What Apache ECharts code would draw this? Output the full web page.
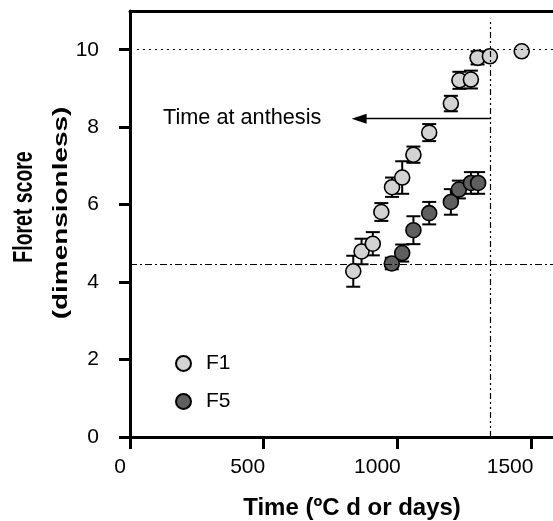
<!DOCTYPE html>
<html>
<head>
<meta charset="utf-8">
<script src="https://cdn.jsdelivr.net/npm/echarts@6/dist/echarts.min.js"></script>
<style>html,body{margin:0;padding:0;background:#fff}#c{width:553px;height:521px}</style>
</head>
<body>
<div id="c"></div>
<script>
// ---- data ----
const f1X   = [835, 866, 908, 940, 980, 1018, 1060, 1119, 1200, 1232, 1275, 1300, 1346, 1465];
const f1Y   = [4.28, 4.79, 4.99, 5.81, 6.45, 6.70, 7.29, 7.86, 8.61, 9.21, 9.23, 9.79, 9.83, 9.96];
const f1Err = [0.40, 0.33, 0.30, 0.23, 0.25, 0.42, 0.21, 0.22, 0.20, 0.22, 0.23, 0.17, 0, 0];
const f5X   = [979, 1018, 1060, 1119, 1200, 1230, 1275, 1302];
const f5Y   = [4.48, 4.75, 5.34, 5.78, 6.07, 6.39, 6.56, 6.56];
const f5Err = [0.15, 0.22, 0.36, 0.29, 0.33, 0.23, 0.28, 0.28];
const xTicks = [0, 500, 1000, 1500];
const yTicks = [0, 2, 4, 6, 8, 10];
const xMax = 1582;
const yMax = 11;
const anthesisX = 1349;
const thresholdY = 4.47;
const maxScore = 10;
const arrowY = 8.22;
const arrowEndX = 857;

const FONT = 'Liberation Sans, Arial, sans-serif';
const chart = echarts.init(document.getElementById('c'), null, {renderer: 'canvas'});

function pts(xs, ys) { return xs.map((x, i) => [x, ys[i]]); }
function errData(xs, ys, es) { return xs.map((x, i) => [x, ys[i] - es[i], ys[i] + es[i]]); }

function errRender(params, api) {
  const x = api.value(0), lo = api.value(1), hi = api.value(2);
  if (hi - lo <= 0) return null;
  const p1 = api.coord([x, lo]), p2 = api.coord([x, hi]);
  const cw = 7;
  const st = {stroke: '#000', lineWidth: 2};
  return {type: 'group', children: [
    {type: 'line', shape: {x1: p1[0], y1: p1[1], x2: p2[0], y2: p2[1]}, style: st},
    {type: 'line', shape: {x1: p1[0]-cw, y1: p1[1], x2: p1[0]+cw, y2: p1[1]}, style: st},
    {type: 'line', shape: {x1: p2[0]-cw, y1: p2[1], x2: p2[0]+cw, y2: p2[1]}, style: st}
  ]};
}

const labStyle = (pr) => ({fontFamily: FONT, fontSize: 21, color: '#000', padding: [0, pr, 0, 0]});

const option = {
  animation: false,
  backgroundColor: '#fff',
  grid: {left: 130, top: 11, right: 0, bottom: 84},
  legend: {
    orient: 'vertical', left: 170, top: 348, itemGap: 17,
    itemWidth: 15, itemHeight: 15,
    data: [{name: 'F1', icon: 'circle'}, {name: 'F5', icon: 'circle'}],
    textStyle: {fontFamily: FONT, fontSize: 21, color: '#000', padding: [0, 0, 0, 10]}
  },
  xAxis: [{
    type: 'value', min: 0, max: xMax, position: 'bottom',
    axisLine: {lineStyle: {color: '#000', width: 3}},
    axisTick: {customValues: xTicks, length: 12, lineStyle: {color: '#000', width: 3}},
    axisLabel: {customValues: xTicks, fontFamily: FONT, fontSize: 21, color: '#000', margin: 20,
      formatter: (v) => '{t' + v + '|' + v + '}',
      rich: {t0: labStyle(20), t500: labStyle(32), t1000: labStyle(40), t1500: labStyle(42)}},
    splitLine: {show: false}
  }, {
    type: 'value', min: 0, max: xMax, position: 'top',
    axisLine: {lineStyle: {color: '#000', width: 3}},
    axisTick: {show: false}, axisLabel: {show: false}, splitLine: {show: false}
  }],
  yAxis: {
    type: 'value', min: 0, max: yMax,
    axisLine: {onZero: false, lineStyle: {color: '#000', width: 3}},
    axisTick: {customValues: yTicks, length: 11, lineStyle: {color: '#000', width: 3}},
    axisLabel: {customValues: yTicks, fontFamily: FONT, fontSize: 21, color: '#000', margin: 31},
    splitLine: {show: false}
  },
  graphic: [
    {type: 'text', x: 25, y: 207, rotation: Math.PI / 2, scaleX: 0.72, style: {text: 'Floret score', fontFamily: FONT,
      fontSize: 27, fontWeight: 'bold', fill: '#000', align: 'center', verticalAlign: 'middle'}},
    {type: 'text', x: 61, y: 213, rotation: Math.PI / 2, scaleX: 1.33, style: {text: '(dimensionless)', fontFamily: FONT,
      fontSize: 21, fontWeight: 'bold', fill: '#000', align: 'center', verticalAlign: 'middle'}},
    {type: 'text', x: 352, y: 508, style: {text: 'Time (ºC d or days)', fontFamily: FONT,
      fontSize: 24, fontWeight: 'bold', fill: '#000', align: 'center', verticalAlign: 'middle'}},
    {type: 'text', x: 163, y: 118, style: {text: 'Time at anthesis', fontFamily: FONT,
      fontSize: 21.7, fill: '#000', align: 'left', verticalAlign: 'middle'}}
  ],
  series: [
    {
      type: 'line', name: 'refs', data: [], silent: true,
      markLine: {
        silent: true, symbol: 'none', label: {show: false}, animation: false,
        data: [
          [{coord: [26, maxScore], lineStyle: {type: [2, 4], width: 1.2, color: '#000'}}, {coord: [xMax, maxScore]}],
          [{coord: [0, thresholdY], lineStyle: {type: [7, 3, 2, 3], width: 1.2, color: '#000'}}, {coord: [xMax, thresholdY]}],
          [{coord: [anthesisX, 0], lineStyle: {type: [6, 3, 2, 3, 2, 3], width: 1.2, color: '#000'}}, {coord: [anthesisX, 10.8]}],
          [{coord: [anthesisX, arrowY], symbol: 'none', lineStyle: {type: 'solid', width: 1.3, color: '#000'}},
           {coord: [arrowEndX, arrowY], symbol: 'triangle', symbolSize: [10, 15], symbolRotate: 90}]
        ]
      }
    },
    {type: 'custom', name: 'F1err', renderItem: errRender, data: errData(f1X, f1Y, f1Err), z: 2, silent: true},
    {type: 'custom', name: 'F5err', renderItem: errRender, data: errData(f5X, f5Y, f5Err), z: 2, silent: true},
    {type: 'scatter', name: 'F1', data: pts(f1X, f1Y), symbol: 'circle', symbolSize: 15, z: 3,
      itemStyle: {color: '#d3d3d3', borderColor: '#000', borderWidth: 1.6, opacity: 1}},
    {type: 'scatter', name: 'F5', data: pts(f5X, f5Y), symbol: 'circle', symbolSize: 15, z: 3,
      itemStyle: {color: '#5f5f5f', borderColor: '#000', borderWidth: 1.6, opacity: 1}}
  ]
};
chart.setOption(option);
</script>
</body>
</html>
